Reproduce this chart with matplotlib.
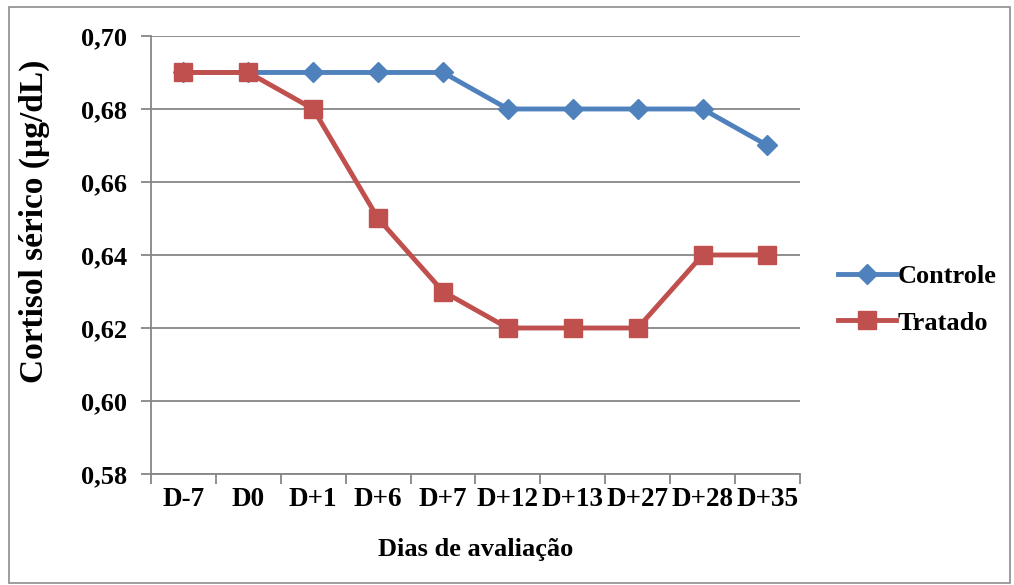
import matplotlib.pyplot as plt
from matplotlib.patches import Rectangle
from matplotlib.ticker import FuncFormatter

dias = ["D-7", "D0", "D+1", "D+6", "D+7", "D+12", "D+13", "D+27", "D+28", "D+35"]
controle = [0.69, 0.69, 0.69, 0.69, 0.69, 0.68, 0.68, 0.68, 0.68, 0.67]
tratado = [0.69, 0.69, 0.68, 0.65, 0.63, 0.62, 0.62, 0.62, 0.64, 0.64]
y_ticks = [0.58, 0.60, 0.62, 0.64, 0.66, 0.68, 0.70]

plt.rcParams["font.family"] = ["Liberation Serif", "DejaVu Serif"]
plt.rcParams["font.weight"] = "bold"

fig = plt.figure(figsize=(10.14, 5.85), dpi=100)
ax = fig.add_axes([0.1489, 0.1897, 0.6400, 0.7488])

# moldura cinza do gráfico
fig.patches.append(Rectangle((0.009, 0.004), 0.987, 0.984, transform=fig.transFigure,
                             fill=False, edgecolor="#8c8c8c", linewidth=1.2))

x = list(range(len(dias)))
ax.plot(x, controle, color="#4F81BD", linewidth=3.5, marker="D", markersize=10.5,
        label="Controle", zorder=3)
ax.plot(x, tratado, color="#C0504D", linewidth=3.5, marker="s", markersize=13.5,
        label="Tratado", zorder=4)

ax.set_xlim(-0.5, len(dias) - 0.5)
ax.set_ylim(0.58, 0.70)
ax.set_yticks(y_ticks)
ax.yaxis.set_major_formatter(FuncFormatter(lambda v, p: f"{v:.2f}".replace(".", ",")))
ax.set_xticks(x)
ax.set_xticklabels(dias)
ax.set_xticks([i - 0.5 for i in range(len(dias) + 1)], minor=True)
ax.tick_params(axis="x", which="major", length=0, pad=9, labelsize=19.5)
ax.tick_params(axis="x", which="minor", length=7, color="#868686", width=1.3)
ax.tick_params(axis="y", length=7, color="#868686", width=1.3, labelsize=19, pad=10)

ax.grid(axis="y", color="#868686", linewidth=1.3)
ax.set_axisbelow(True)
for s in ["top", "right"]:
    ax.spines[s].set_visible(False)
for s in ["left", "bottom"]:
    ax.spines[s].set_color("#868686")
    ax.spines[s].set_linewidth(1.3)

ax.set_xlabel("Dias de avaliação", fontsize=19, fontweight="bold", va="center")
ax.xaxis.set_label_coords(0.5, -0.172)
ax.set_ylabel("Cortisol sérico (µg/dL)", fontsize=24, fontweight="bold", va="center")
ax.yaxis.set_label_coords(-0.18, 0.578)

ax.legend(loc="center left", bbox_to_anchor=(1.043, 0.398), frameon=False, fontsize=19,
          handlelength=2.2, handletextpad=0.05, labelspacing=0.87, borderaxespad=0)

fig.savefig("out.png", dpi=100)
